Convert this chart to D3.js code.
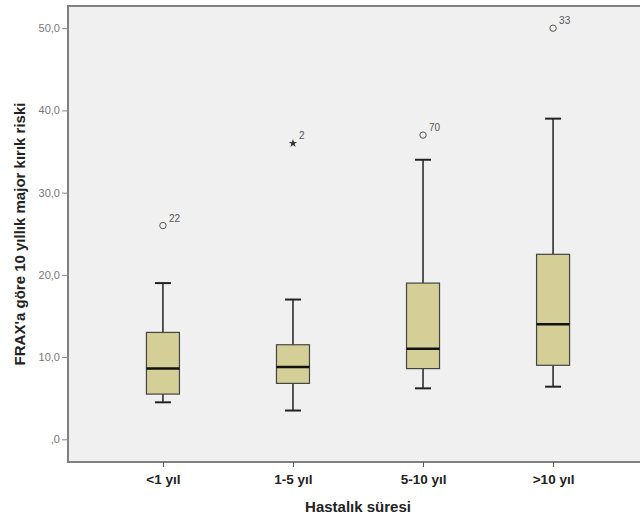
<!DOCTYPE html>
<html>
<head>
<meta charset="utf-8">
<script src="https://cdn.jsdelivr.net/npm/d3@7"></script>
<style>
  body { margin: 0; background: #fff; }
  text { font-family: "Liberation Sans", Arial, sans-serif; }
</style>
</head>
<body>
<svg id="chart"></svg>
<script>
// values
const categories = ["<1 yıl", "1-5 yıl", "5-10 yıl", ">10 yıl"];
const whiskerLow = [4.5, 3.5, 6.2, 6.4];
const q1 = [5.5, 6.8, 8.6, 9.0];
const medians = [8.6, 8.8, 11.0, 14.0];
const q3 = [13.0, 11.5, 19.0, 22.5];
const whiskerHigh = [19.0, 17.0, 34.0, 39.0];
const outliers = [
    { cat: "<1 yıl", value: 26.0, label: "22", extreme: false },
    { cat: "1-5 yıl", value: 36.0, label: "2", extreme: true },
    { cat: "5-10 yıl", value: 37.0, label: "70", extreme: false },
    { cat: ">10 yıl", value: 50.0, label: "33", extreme: false }
];
const yTicks = [0, 10, 20, 30, 40, 50];

const width = 640, height = 521;
const margin = { top: 6, right: -8, bottom: 59, left: 68 };

const svg = d3.select("#chart").attr("width", width).attr("height", height);

const innerW = width - margin.left - margin.right;
const innerH = height - margin.top - margin.bottom;

const x = d3.scalePoint().domain(categories).range([0, innerW]).padding(0.73);
const y = d3.scaleLinear().domain([-2.76, 52.7]).range([innerH, 0]);

const g = svg.append("g").attr("transform", `translate(${margin.left},${margin.top})`);

g.append("rect")
    .attr("width", innerW).attr("height", innerH)
    .attr("fill", "#f0f0f0")
    .attr("stroke", "#808080").attr("stroke-width", 2);

// y axis
const yAxis = g.append("g")
    .call(d3.axisLeft(y).tickValues(yTicks).tickSize(6).tickPadding(2)
        .tickFormat(d => d === 0 ? ",0" : d3.format(".1f")(d).replace(".", ",")));
yAxis.select(".domain").remove();
yAxis.selectAll("line").attr("stroke", "#888");
yAxis.selectAll("text").attr("fill", "#777").attr("font-size", 11);

// x axis
const xAxis = g.append("g")
    .attr("transform", `translate(0,${innerH})`)
    .call(d3.axisBottom(x).tickSize(5).tickPadding(7));
xAxis.select(".domain").remove();
xAxis.selectAll("line").attr("stroke", "#555");
xAxis.selectAll("text").attr("fill", "#222").attr("font-size", 13.5).attr("font-weight", "bold");

const boxW = 33, capW = 16;
const boxes = g.selectAll(".box").data(categories).join("g")
    .attr("class", "box")
    .attr("transform", d => `translate(${x(d)},0)`);

boxes.append("line")
    .attr("y1", (d, i) => y(whiskerHigh[i])).attr("y2", (d, i) => y(q3[i]))
    .attr("stroke", "#222").attr("stroke-width", 1.5);
boxes.append("line")
    .attr("y1", (d, i) => y(q1[i])).attr("y2", (d, i) => y(whiskerLow[i]))
    .attr("stroke", "#222").attr("stroke-width", 1.5);
boxes.append("line")
    .attr("x1", -capW / 2).attr("x2", capW / 2)
    .attr("y1", (d, i) => y(whiskerHigh[i])).attr("y2", (d, i) => y(whiskerHigh[i]))
    .attr("stroke", "#222").attr("stroke-width", 2);
boxes.append("line")
    .attr("x1", -capW / 2).attr("x2", capW / 2)
    .attr("y1", (d, i) => y(whiskerLow[i])).attr("y2", (d, i) => y(whiskerLow[i]))
    .attr("stroke", "#222").attr("stroke-width", 2);
boxes.append("rect")
    .attr("x", -boxW / 2).attr("width", boxW)
    .attr("y", (d, i) => y(q3[i])).attr("height", (d, i) => y(q1[i]) - y(q3[i]))
    .attr("fill", "#d4cf96").attr("stroke", "#444").attr("stroke-width", 1.2);
boxes.append("line")
    .attr("x1", -boxW / 2).attr("x2", boxW / 2)
    .attr("y1", (d, i) => y(medians[i])).attr("y2", (d, i) => y(medians[i]))
    .attr("stroke", "#111").attr("stroke-width", 2.5);

// outliers
const out = g.selectAll(".out").data(outliers).join("g")
    .attr("class", "out")
    .attr("transform", d => `translate(${x(d.cat)},${y(d.value)})`);
out.filter(d => !d.extreme).append("circle")
    .attr("r", 3.2).attr("fill", "none").attr("stroke", "#555").attr("stroke-width", 1);
out.filter(d => d.extreme).append("path")
    .attr("d", d3.symbol(d3.symbolStar, 22))
    .attr("fill", "#333");
out.append("text")
    .attr("x", 6).attr("y", -4)
    .attr("fill", "#555").attr("font-size", 10)
    .text(d => d.label);

// axis titles
svg.append("text")
    .attr("x", 358).attr("y", 512)
    .attr("text-anchor", "middle")
    .attr("font-size", 15).attr("font-weight", "bold").attr("fill", "#222")
    .text("Hastalık süresi");

svg.append("text")
    .attr("transform", `translate(25,${margin.top + innerH / 2}) rotate(-90)`)
    .attr("text-anchor", "middle")
    .attr("font-size", 15).attr("font-weight", "bold").attr("fill", "#222")
    .text("FRAX'a göre 10 yıllık major kırık riski");
</script>
</body>
</html>
